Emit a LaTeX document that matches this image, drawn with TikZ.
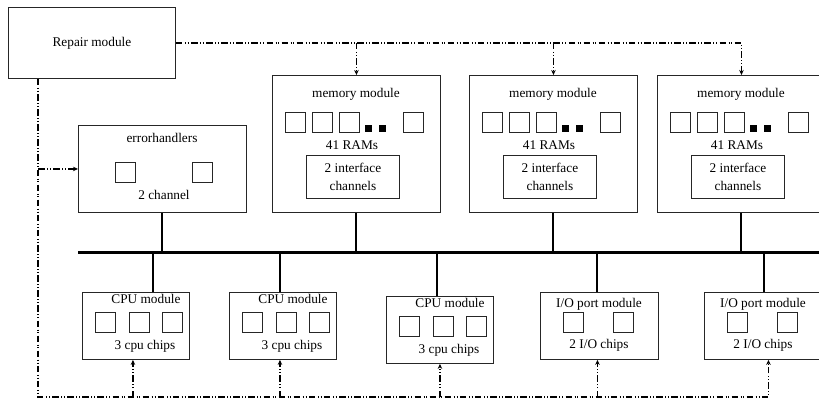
\documentclass[tikz,border=0pt]{standalone}
\usepackage{fontspec}
\setmainfont{Liberation Serif}
\usetikzlibrary{arrows.meta, positioning, calc}

\begin{document}
\begin{tikzpicture}[
    x=1pt, y=-1pt,
    font=\fontsize{13.3}{15.5}\selectfont,
    module/.style={rectangle, draw=black!85, line width=0.9pt, anchor=north west, inner sep=0pt, align=center},
    chip/.style={rectangle, draw=black!85, line width=0.9pt, minimum size=20pt, inner sep=0pt},
    fillchip/.style={rectangle, fill=black, minimum size=7pt, inner sep=0pt},
    txt/.style={inner sep=0pt, align=center},
    bus/.style={line width=3pt},
    link/.style={line width=2pt},
    ctrl/.style={line width=1.6pt, dash pattern=on 6.5pt off 2.5pt on 0.8pt off 2pt on 0.8pt off 2.5pt, -{Stealth[length=5pt, width=4.5pt]}}
]
    \useasboundingbox (0,0) rectangle (819,400);

    % Repair module
    \node[module, minimum width=167pt, minimum height=71pt] (rep) at (8,7) {Repair module};

    % Error handlers
    \node[module, minimum width=168pt, minimum height=87pt] (err) at (78,125) {};
    \node[txt] (errT) at (162,138) {errorhandlers};
    \node[chip] (errA) at (125,172) {};
    \node[chip] (errB) at (202,172) {};
    \node[txt] (errC) at (164,195) {2 channel};

    % Memory modules
    \foreach \i/\x in {1/272, 2/469, 3/657} {
        \node[module, minimum width=168pt, minimum height=137pt] (mem\i) at (\x,75) {};
        \node[txt] (memT\i) at (\x+84,94) {memory module};
        \foreach \c in {23.5,50,77,141}
            \node[chip] at (\x+\c,122) {};
        \node[fillchip] (memD\i) at (\x+96.5,128.5) {};
        \node[fillchip] (memE\i) at (\x+110.5,128.5) {};
        \node[txt] (memR\i) at (\x+80,145) {41 RAMs};
        \node[module, minimum width=93pt, minimum height=43pt, font=\fontsize{13.3}{18}\selectfont] (ifc\i) at (\x+34,155) {2 interface\\channels};
    }

    % CPU modules
    \foreach \i/\x/\y in {1/82/292, 2/229/292, 3/386/296} {
        \node[module, minimum width=107pt, minimum height=67pt] (cpu\i) at (\x,\y) {};
        \node[txt] (cpuT\i) at (\x+64,\y+7) {CPU module};
        \foreach \c in {23,57,90}
            \node[chip] at (\x+\c,\y+30) {};
        \node[txt] (cpuC\i) at (\x+63,\y+54) {3 cpu chips};
    }

    % I/O port modules
    \foreach \i/\x in {1/540, 2/704} {
        \node[module, minimum width=118pt, minimum height=67pt] (io\i) at (\x,292) {};
        \node[txt] (ioT\i) at (\x+59,304) {I/O port module};
        \node[chip] (ioA\i) at (\x+33,322) {};
        \node[chip] (ioB\i) at (\x+83,322) {};
        \node[txt] (ioC\i) at (\x+59,345) {2 I/O chips};
    }

    % System bus
    \coordinate (busL) at (78,252);
    \coordinate (busR) at (819,252);
    \draw[bus] (busL) -- (busR);

    \draw[link] (err.south) -- (err.south |- busL);
    \foreach \i in {1,2,3}
        \draw[link] (mem\i.south) -- (mem\i.south |- busL);
    \foreach \n/\d in {cpu1/17, cpu2/-3, cpu3/-3, io1/-2, io2/1}
        \draw[link] ([xshift=\d pt]\n.north) -- ([xshift=\d pt]\n.north |- busL);

    % Repair control lines
    \coordinate (lv) at (38,78);
    \coordinate (bot) at (38,397);
    \draw[ctrl] (rep.east) -| (mem3.north);
    \draw[ctrl] (mem1.north |- rep.east) -- (mem1.north);
    \draw[ctrl] (mem2.north |- rep.east) -- (mem2.north);
    \draw[ctrl] (lv |- err.west) -- (err.west);
    \draw[ctrl] (rep.south -| lv) -- (bot) -| ([xshift=5pt]io2.south);
    \foreach \n/\d in {cpu1/-3, cpu2/-3, cpu3/0, io1/-2}
        \draw[ctrl] ([xshift=\d pt]\n.south |- bot) -- ([xshift=\d pt]\n.south);

\end{tikzpicture}
\end{document}
